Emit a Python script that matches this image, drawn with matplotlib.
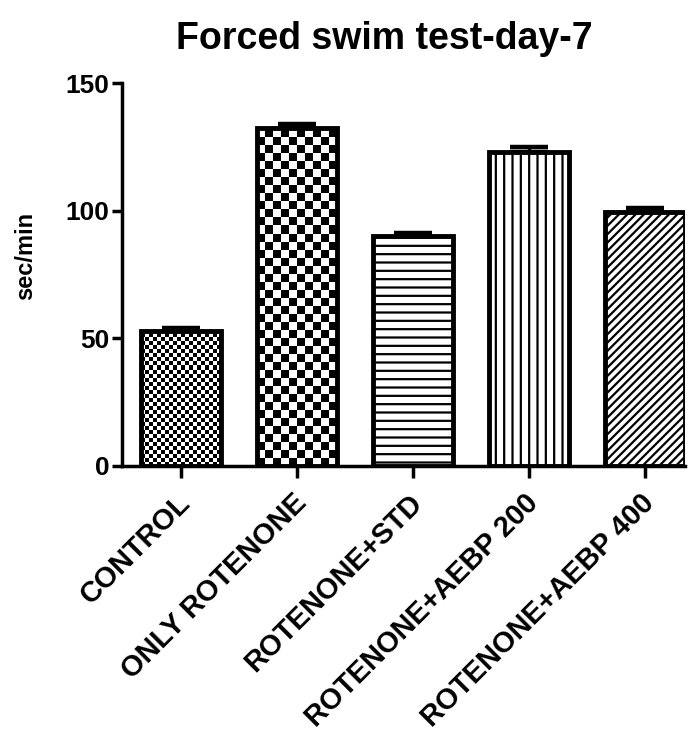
import numpy as np
import matplotlib
matplotlib.use("Agg")
import matplotlib.pyplot as plt
import matplotlib.transforms as mtransforms

plt.rcParams['font.family'] = ['Liberation Sans', 'DejaVu Sans']
plt.rcParams['font.weight'] = 'bold'
plt.rcParams['hatch.linewidth'] = 1.6

groups = ['CONTROL', 'ONLY ROTENONE', 'ROTENONE+STD', 'ROTENONE+AEBP 200', 'ROTENONE+AEBP 400']
means = [53.0, 132.5, 90.0, 123.0, 99.5]
sems = [1.2, 1.5, 1.3, 1.8, 1.4]
# fill for each group: ('checker', cell size in px) or a hatch string
fills = [('checker', 4), ('checker', 8), '--', '||', '////']

fig = plt.figure(figsize=(6.92, 7.35), dpi=100)
ax = fig.add_axes([0.176, 0.366, 0.814, 0.521])

x = np.arange(len(groups))
width = 0.69
ax.set_xlim(-0.51, 4.35)
ax.set_ylim(0, 150)

# error bars (upper only, as GraphPad draws them)
ax.errorbar(x, means, yerr=[np.zeros(len(means)), sems], fmt='none', ecolor='black',
            elinewidth=2.5, capsize=14, capthick=3.2, zorder=1)

bars = ax.bar(x, means, width=width, facecolor='white', edgecolor='black',
              linewidth=3.5, zorder=2)

# pixels per data unit, used to size the checkerboard cells
p0 = ax.transData.transform((0, 0))
p1 = ax.transData.transform((1, 1))
px_x = p1[0] - p0[0]
px_y = p1[1] - p0[1]

for bar, fill in zip(bars, fills):
    if isinstance(fill, tuple):
        cell = fill[1]
        x0 = bar.get_x()
        w = bar.get_width()
        h = bar.get_height()
        nx = int(np.ceil(w * px_x / cell))
        ny = int(np.ceil(h * px_y / cell))
        board = (np.indices((ny, nx)).sum(axis=0) % 2).astype(float)
        im = ax.imshow(board, cmap='gray', extent=(x0, x0 + nx * cell / px_x, 0, ny * cell / px_y),
                       origin='lower', interpolation='nearest', aspect='auto', zorder=2.5)
        im.set_clip_path(bar)
        bar.set_facecolor('none')
        bar.set_zorder(3)
    else:
        bar.set_hatch(fill)

ax.set_xlim(-0.51, 4.35)
ax.set_ylim(0, 150)

for side in ['top', 'right']:
    ax.spines[side].set_visible(False)
for side in ['left', 'bottom']:
    ax.spines[side].set_linewidth(2.5)

ax.set_yticks([0, 50, 100, 150])
ax.tick_params(axis='y', length=7, width=2.5, labelsize=19, pad=2)
ax.tick_params(axis='x', length=8.5, width=2.5, labelsize=20.8, pad=8)
ax.set_xticks(x)
ax.set_xticklabels(groups, rotation=45, ha='right', va='top', rotation_mode='anchor',
                   fontweight='bold')
# nudge the slanted labels left so their ends sit under the ticks
shift = mtransforms.ScaledTranslation(-3.5 / 72, 0, fig.dpi_scale_trans)
for lbl in ax.get_xticklabels():
    lbl.set_transform(lbl.get_transform() + shift)
for lbl in ax.get_yticklabels():
    lbl.set_fontweight('bold')

ax.set_ylabel('sec/min', fontsize=17, fontweight='bold')
ax.yaxis.set_label_coords(-0.151, 0.548)
fig.text(0.555, 0.947, 'Forced swim test-day-7', ha='center', va='center',
         fontsize=27, fontweight='bold')

fig.savefig('out.png', dpi=100)
